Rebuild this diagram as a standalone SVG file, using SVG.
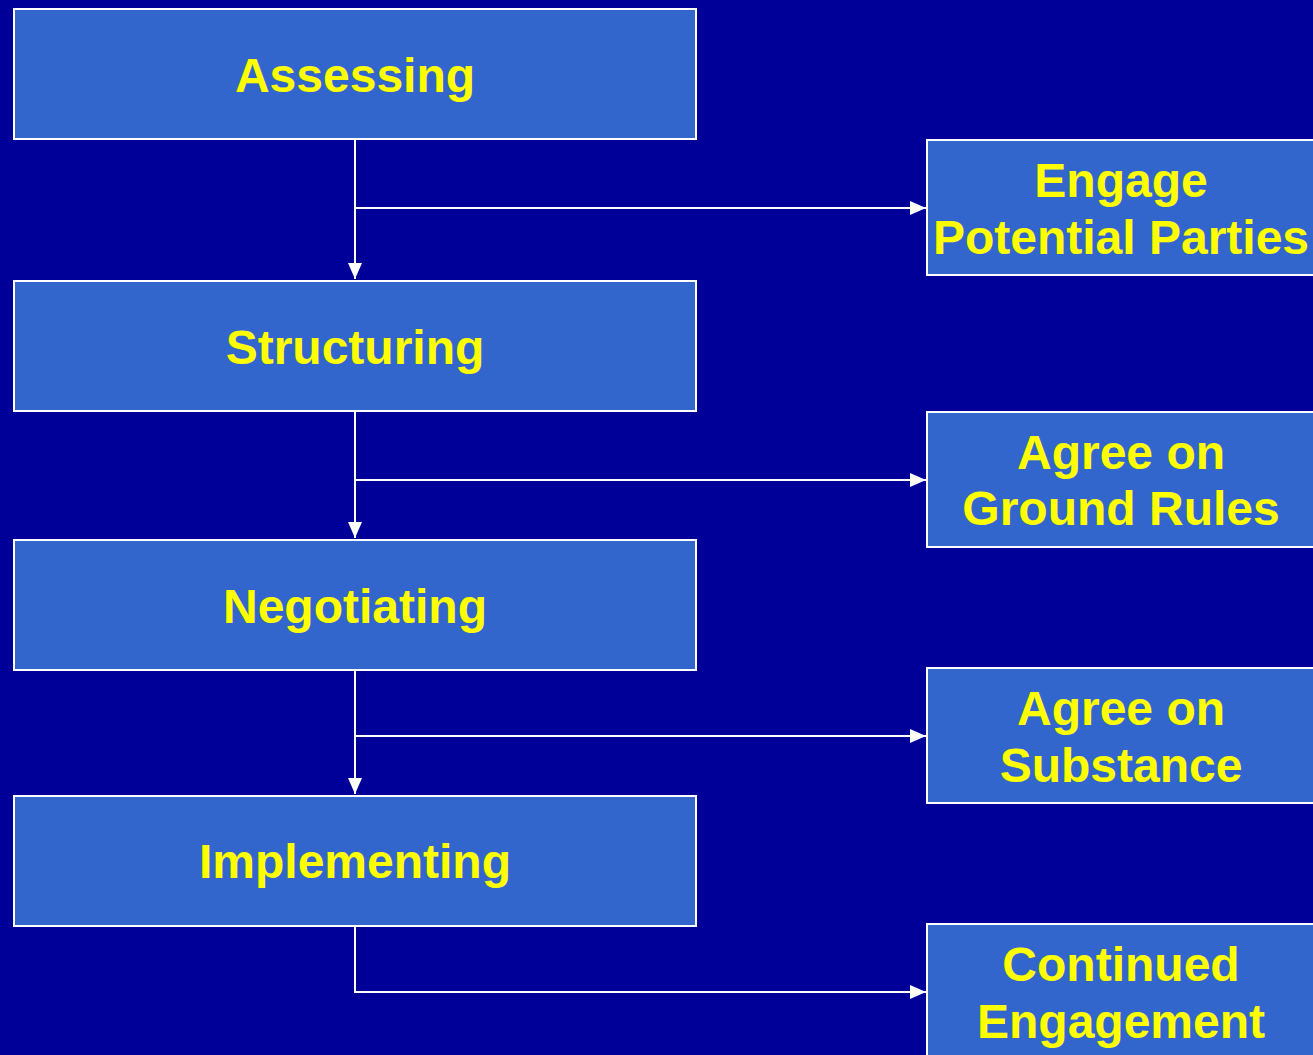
<svg xmlns="http://www.w3.org/2000/svg" width="1313" height="1055" viewBox="0 0 1313 1055">
<style>
.box{fill:#3366CC;stroke:#FFFFFF;stroke-width:2}
.t{font-family:"Liberation Sans",Arial,sans-serif;font-weight:bold;font-size:48px;fill:#FFFF00;text-anchor:middle}
.c{stroke:#FFFFFF;stroke-width:2;fill:none}
</style>
<defs>
<marker id="ah" markerUnits="userSpaceOnUse" markerWidth="16" markerHeight="14" refX="16" refY="7" orient="auto">
<path d="M0,0 L16,7 L0,14 Z" fill="#FFFFFF"/>
</marker>
</defs>
<rect x="0" y="0" width="1313" height="1055" fill="#000099"/>
<g id="connectors">
<path class="c" d="M355,139 V279" marker-end="url(#ah)"/>
<path class="c" d="M355,208 H926" marker-end="url(#ah)"/>
<path class="c" d="M355,411 V538" marker-end="url(#ah)"/>
<path class="c" d="M355,480 H926" marker-end="url(#ah)"/>
<path class="c" d="M355,670 V794" marker-end="url(#ah)"/>
<path class="c" d="M355,736 H926" marker-end="url(#ah)"/>
<path class="c" d="M355,926 V992 H926" marker-end="url(#ah)"/>
</g>
<g id="assessing"><rect class="box" x="14" y="9" width="682" height="130"/><text class="t" x="355" y="92">Assessing</text></g>
<g id="structuring"><rect class="box" x="14" y="281" width="682" height="130"/><text class="t" x="355" y="364">Structuring</text></g>
<g id="negotiating"><rect class="box" x="14" y="540" width="682" height="130"/><text class="t" x="355" y="623">Negotiating</text></g>
<g id="implementing"><rect class="box" x="14" y="796" width="682" height="130"/><text class="t" x="355" y="878">Implementing</text></g>
<g id="engage"><rect class="box" x="927" y="140" width="392" height="135"/><text class="t" x="1121" y="197">Engage</text><text class="t" x="1121" y="254">Potential Parties</text></g>
<g id="groundrules"><rect class="box" x="927" y="412" width="392" height="135"/><text class="t" x="1121" y="469">Agree on</text><text class="t" x="1121" y="525">Ground Rules</text></g>
<g id="substance"><rect class="box" x="927" y="668" width="392" height="135"/><text class="t" x="1121" y="725">Agree on</text><text class="t" x="1121" y="782">Substance</text></g>
<g id="continued"><rect class="box" x="927" y="924" width="392" height="140"/><text class="t" x="1121" y="981">Continued</text><text class="t" x="1121" y="1038">Engagement</text></g>
</svg>
